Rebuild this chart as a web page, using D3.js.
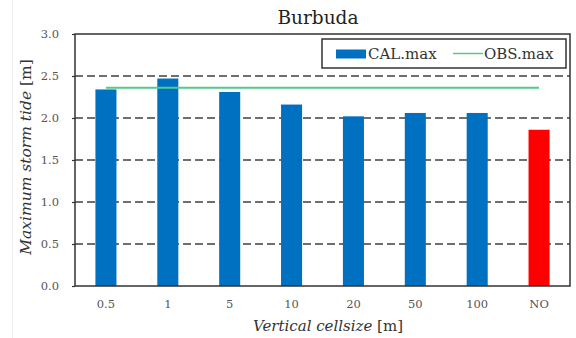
<!DOCTYPE html>
<html><head><meta charset="utf-8">
<script src="https://cdn.jsdelivr.net/npm/d3@7"></script>
<style>html,body{margin:0;padding:0;background:#fff;}</style>
</head><body>
<svg id="chart" width="576" height="338"></svg>
<script>
const categories = ["0.5","1","5","10","20","50","100","NO"];
const calMax = [2.34, 2.47, 2.31, 2.16, 2.02, 2.06, 2.06, 1.86];
const obsMax = 2.36;
const yTicks = [0.0, 0.5, 1.0, 1.5, 2.0, 2.5, 3.0];
const barColors = ["#0070C0","#0070C0","#0070C0","#0070C0","#0070C0","#0070C0","#0070C0","#FF0000"];

const svg = d3.select("#chart");
const font = "'DejaVu Serif', serif";
const L = 75, R = 570, T = 34, B = 286;

const x = d3.scaleBand().domain(categories).range([L, R]);
const y = d3.scaleLinear().domain([0, 3]).range([B, T]);

// faint figure frame line
svg.append("line").attr("x1", 12.5).attr("x2", 12.5).attr("y1", 0).attr("y2", 338)
  .attr("stroke", "#eeeeee").attr("stroke-width", 1);

// gridlines (dashed)
svg.append("g").selectAll("line").data(yTicks.filter(v => v > 0 && v < 3)).join("line")
  .attr("x1", L).attr("x2", R)
  .attr("y1", d => y(d)).attr("y2", d => y(d))
  .attr("stroke", "#404040").attr("stroke-width", 1.5)
  .attr("stroke-dasharray", "8,4");

// bars
const bw = x.bandwidth() * 0.34;
svg.append("g").selectAll("rect").data(calMax).join("rect")
  .attr("x", (d, i) => x(categories[i]) + x.bandwidth() / 2 - bw / 2)
  .attr("width", bw)
  .attr("y", d => y(d))
  .attr("height", d => B - y(d))
  .attr("fill", (d, i) => barColors[i]);

// OBS line
svg.append("line")
  .attr("x1", x(categories[0]) + x.bandwidth() / 2)
  .attr("x2", x(categories[categories.length - 1]) + x.bandwidth() / 2)
  .attr("y1", y(obsMax)).attr("y2", y(obsMax))
  .attr("stroke", "#55C98A").attr("stroke-width", 2);

// y axis
const yAxis = svg.append("g").attr("transform", `translate(${L},0)`)
  .call(d3.axisLeft(y).tickValues(yTicks).tickFormat(d3.format(".1f")).tickSize(3).tickPadding(13));
yAxis.select(".domain").remove();
yAxis.selectAll("line").attr("stroke", "#333").attr("stroke-width", 1.2);
yAxis.selectAll("text").attr("font-family", font).attr("font-size", "11.5px").attr("fill", "#555");

// x axis
const xAxis = svg.append("g").attr("transform", `translate(0,${B})`)
  .call(d3.axisBottom(x).tickSize(0).tickPadding(14));
xAxis.select(".domain").remove();
xAxis.selectAll("text").attr("font-family", font).attr("font-size", "11.5px").attr("fill", "#555");

// plot frame
svg.append("rect").attr("x", L).attr("y", T).attr("width", R - L).attr("height", B - T)
  .attr("fill", "none").attr("stroke", "#333").attr("stroke-width", 1.5);

// title
svg.append("text").attr("x", 318).attr("y", 24).attr("text-anchor", "middle")
  .attr("font-family", font).attr("font-size", "18.5px").attr("fill", "#222").text("Burbuda");

// x label
const xl = svg.append("text").attr("x", 328).attr("y", 331).attr("text-anchor", "middle")
  .attr("font-family", font).attr("font-size", "15px").attr("fill", "#333");
xl.append("tspan").attr("font-style", "italic").text("Vertical cellsize");
xl.append("tspan").text(" [m]");

// y label
const yl = svg.append("text").attr("transform", `translate(31,${(T + B) / 2 - 3}) rotate(-90)`)
  .attr("text-anchor", "middle")
  .attr("font-family", font).attr("font-size", "15.5px").attr("fill", "#333");
yl.append("tspan").attr("font-style", "italic").text("Maximum storm tide");
yl.append("tspan").text(" [m]");

// legend
const lg = svg.append("g");
lg.append("rect").attr("x", 322).attr("y", 39).attr("width", 244).attr("height", 29)
  .attr("fill", "#fff").attr("stroke", "#333").attr("stroke-width", 1.5);
lg.append("rect").attr("x", 336).attr("y", 49.5).attr("width", 30).attr("height", 9).attr("fill", "#0070C0");
lg.append("text").attr("x", 368).attr("y", 59).attr("font-family", font).attr("font-size", "15px")
  .attr("fill", "#333").text("CAL.max");
lg.append("line").attr("x1", 453).attr("x2", 483).attr("y1", 53.5).attr("y2", 53.5)
  .attr("stroke", "#55C98A").attr("stroke-width", 1.5);
lg.append("text").attr("x", 484).attr("y", 59).attr("font-family", font).attr("font-size", "15px")
  .attr("fill", "#333").text("OBS.max");
</script>
</body></html>
